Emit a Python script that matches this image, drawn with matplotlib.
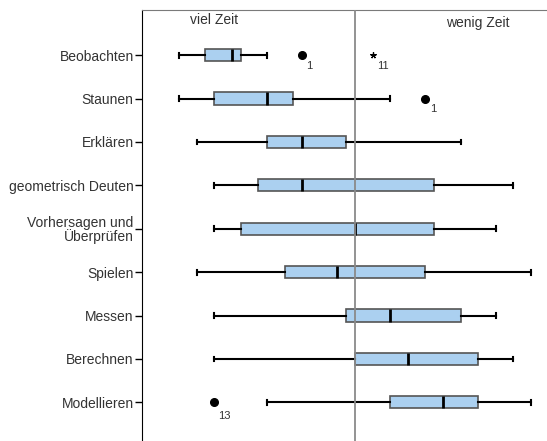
import matplotlib.pyplot as plt

plt.rcParams['font.family'] = ['Liberation Sans', 'DejaVu Sans']

# categories top to bottom, scale runs from -10 (viel Zeit) to +10 (wenig Zeit)
categories = ['Beobachten', 'Staunen', 'Erklären', 'geometrisch Deuten',
              'Vorhersagen und\nÜberprüfen', 'Spielen', 'Messen', 'Berechnen',
              'Modellieren']
whislo = [-10, -10, -9, -8, -8, -9, -8, -8, -5]
q1 = [-8.5, -8, -5, -5.5, -6.5, -4, -0.5, 0, 2]
med = [-7, -5, -3, -3, 0, -1, 2, 3, 5]
q3 = [-6.5, -3.5, -0.5, 4.5, 4.5, 4, 6, 7, 7]
whishi = [-5, 2, 6, 9, 8, 10, 8, 9, 10]

# outliers (circles) and extreme values (asterisks) with case numbers
outliers = {0: [(-3, '1')], 1: [(4, '1')], 8: [(-8, '13')]}
extremes = {0: [(1, '11')]}

stats = []
for i, name in enumerate(categories):
    stats.append({
        'label': name,
        'whislo': whislo[i], 'q1': q1[i], 'med': med[i],
        'q3': q3[i], 'whishi': whishi[i],
        'fliers': [v for v, _ in outliers.get(i, [])],
    })

positions = list(range(1, len(categories) + 1))
text_color = '#333333'

fig = plt.figure(figsize=(5.47, 4.41), dpi=100)
ax = fig.add_axes([142 / 547, -0.0147, 426 / 547, 0.992])

ax.bxp(stats, positions=positions, vert=False, widths=0.28,
       patch_artist=True,
       boxprops=dict(facecolor='#abd0f0', edgecolor='#555555', linewidth=1.2),
       medianprops=dict(color='black', linewidth=2),
       whiskerprops=dict(color='black', linewidth=1.5),
       capprops=dict(color='black', linewidth=1.5),
       capwidths=0.11,
       flierprops=dict(marker='o', markerfacecolor='black',
                       markeredgecolor='black', markersize=5.5))

for i, pts in outliers.items():
    for v, case in pts:
        if case == '13':
            ax.text(v + 0.2, positions[i] + 0.38, case, fontsize=8,
                    color=text_color)
        else:
            ax.text(v + 0.25, positions[i] + 0.32, case, fontsize=8,
                    color=text_color)

for i, pts in extremes.items():
    for v, case in pts:
        ax.plot(v, positions[i], marker=(5, 2, 0), color='black',
                markersize=4.5, markeredgewidth=0.9, linestyle='none')
        ax.text(v + 0.25, positions[i] + 0.32, case, fontsize=8,
                color=text_color)

ax.axvline(0, color='#8a8a8a', linewidth=1.3, zorder=5)

ax.text(-8, 0.2, 'viel Zeit', ha='center', va='center', fontsize=10,
        color=text_color)
ax.text(7, 0.25, 'wenig Zeit', ha='center', va='center', fontsize=10,
        color=text_color)

ax.set_xlim(-12.1, 12.1)
ax.set_ylim(10.04, -0.04)
ax.set_yticks(positions)
ax.set_yticklabels(categories, fontsize=10, color=text_color,
                   linespacing=0.95)
ax.tick_params(axis='y', length=5, width=1, pad=1)
ax.set_xticks([])

for side in ['right', 'bottom']:
    ax.spines[side].set_visible(False)
ax.spines['top'].set_color('#7a7a7a')
ax.spines['left'].set_color('black')

fig.savefig('out.png', dpi=100)
